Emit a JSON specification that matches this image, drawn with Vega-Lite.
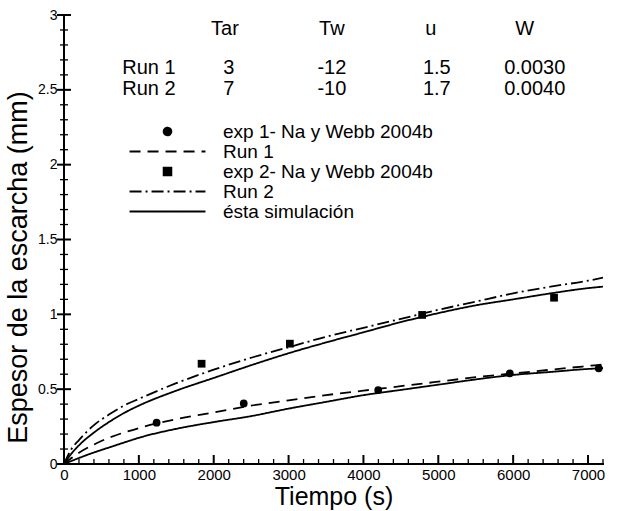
{
  "$schema": "https://vega.github.io/schema/vega-lite/v6.json",
  "width": 539,
  "height": 449,
  "autosize": "none",
  "padding": {"left": 64, "top": 15, "right": 21, "bottom": 47},
  "background": "white",
  "config": {
    "view": {"stroke": null},
    "font": "Liberation Sans",
    "axis": {"grid": false, "domain": false, "ticks": false, "labelColor": "black", "titleColor": "black", "labelFont": "Liberation Sans", "titleFont": "Liberation Sans", "titleFontWeight": "normal"},
    "legend": {"labelFont": "Liberation Sans", "labelColor": "black"}
  },
  "datasets": {
    "one": [{"id": 1}],
    "xticks": [
      {"k": "M", "t": 0}, {"k": "m", "t": 200}, {"k": "m", "t": 400}, {"k": "m", "t": 600}, {"k": "m", "t": 800},
      {"k": "M", "t": 1000}, {"k": "m", "t": 1200}, {"k": "m", "t": 1400}, {"k": "m", "t": 1600}, {"k": "m", "t": 1800},
      {"k": "M", "t": 2000}, {"k": "m", "t": 2200}, {"k": "m", "t": 2400}, {"k": "m", "t": 2600}, {"k": "m", "t": 2800},
      {"k": "M", "t": 3000}, {"k": "m", "t": 3200}, {"k": "m", "t": 3400}, {"k": "m", "t": 3600}, {"k": "m", "t": 3800},
      {"k": "M", "t": 4000}, {"k": "m", "t": 4200}, {"k": "m", "t": 4400}, {"k": "m", "t": 4600}, {"k": "m", "t": 4800},
      {"k": "M", "t": 5000}, {"k": "m", "t": 5200}, {"k": "m", "t": 5400}, {"k": "m", "t": 5600}, {"k": "m", "t": 5800},
      {"k": "M", "t": 6000}, {"k": "m", "t": 6200}, {"k": "m", "t": 6400}, {"k": "m", "t": 6600}, {"k": "m", "t": 6800},
      {"k": "M", "t": 7000}, {"k": "m", "t": 7200}
    ],
    "yticks": [
      {"k": "M", "v": 0}, {"k": "m", "v": 0.1}, {"k": "m", "v": 0.2}, {"k": "m", "v": 0.3}, {"k": "m", "v": 0.4},
      {"k": "M", "v": 0.5}, {"k": "m", "v": 0.6}, {"k": "m", "v": 0.7}, {"k": "m", "v": 0.8}, {"k": "m", "v": 0.9},
      {"k": "M", "v": 1}, {"k": "m", "v": 1.1}, {"k": "m", "v": 1.2}, {"k": "m", "v": 1.3}, {"k": "m", "v": 1.4},
      {"k": "M", "v": 1.5}, {"k": "m", "v": 1.6}, {"k": "m", "v": 1.7}, {"k": "m", "v": 1.8}, {"k": "m", "v": 1.9},
      {"k": "M", "v": 2}, {"k": "m", "v": 2.1}, {"k": "m", "v": 2.2}, {"k": "m", "v": 2.3}, {"k": "m", "v": 2.4},
      {"k": "M", "v": 2.5}, {"k": "m", "v": 2.6}, {"k": "m", "v": 2.7}, {"k": "m", "v": 2.8}, {"k": "m", "v": 2.9},
      {"k": "M", "v": 3}
    ],
    "curves": [
      {"curve": "r1", "series": "Run 1", "t": 0, "v": 0},
      {"curve": "r1", "series": "Run 1", "t": 100, "v": 0.04},
      {"curve": "r1", "series": "Run 1", "t": 200, "v": 0.075},
      {"curve": "r1", "series": "Run 1", "t": 400, "v": 0.13},
      {"curve": "r1", "series": "Run 1", "t": 600, "v": 0.175},
      {"curve": "r1", "series": "Run 1", "t": 800, "v": 0.21},
      {"curve": "r1", "series": "Run 1", "t": 1000, "v": 0.24},
      {"curve": "r1", "series": "Run 1", "t": 1500, "v": 0.3},
      {"curve": "r1", "series": "Run 1", "t": 2000, "v": 0.345},
      {"curve": "r1", "series": "Run 1", "t": 2500, "v": 0.39},
      {"curve": "r1", "series": "Run 1", "t": 3000, "v": 0.425},
      {"curve": "r1", "series": "Run 1", "t": 3500, "v": 0.46},
      {"curve": "r1", "series": "Run 1", "t": 4000, "v": 0.49},
      {"curve": "r1", "series": "Run 1", "t": 4500, "v": 0.52},
      {"curve": "r1", "series": "Run 1", "t": 5000, "v": 0.55},
      {"curve": "r1", "series": "Run 1", "t": 5500, "v": 0.58},
      {"curve": "r1", "series": "Run 1", "t": 6000, "v": 0.605},
      {"curve": "r1", "series": "Run 1", "t": 6500, "v": 0.63},
      {"curve": "r1", "series": "Run 1", "t": 7000, "v": 0.655},
      {"curve": "r1", "series": "Run 1", "t": 7200, "v": 0.665},
      {"curve": "s1", "series": "ésta simulación", "t": 0, "v": 0},
      {"curve": "s1", "series": "ésta simulación", "t": 200, "v": 0.04},
      {"curve": "s1", "series": "ésta simulación", "t": 400, "v": 0.077},
      {"curve": "s1", "series": "ésta simulación", "t": 600, "v": 0.11},
      {"curve": "s1", "series": "ésta simulación", "t": 800, "v": 0.143},
      {"curve": "s1", "series": "ésta simulación", "t": 1000, "v": 0.175},
      {"curve": "s1", "series": "ésta simulación", "t": 1500, "v": 0.235},
      {"curve": "s1", "series": "ésta simulación", "t": 2000, "v": 0.28},
      {"curve": "s1", "series": "ésta simulación", "t": 2500, "v": 0.32},
      {"curve": "s1", "series": "ésta simulación", "t": 3000, "v": 0.37},
      {"curve": "s1", "series": "ésta simulación", "t": 3500, "v": 0.415},
      {"curve": "s1", "series": "ésta simulación", "t": 4000, "v": 0.46},
      {"curve": "s1", "series": "ésta simulación", "t": 4500, "v": 0.495},
      {"curve": "s1", "series": "ésta simulación", "t": 5000, "v": 0.53},
      {"curve": "s1", "series": "ésta simulación", "t": 5500, "v": 0.565},
      {"curve": "s1", "series": "ésta simulación", "t": 6000, "v": 0.595},
      {"curve": "s1", "series": "ésta simulación", "t": 6500, "v": 0.615},
      {"curve": "s1", "series": "ésta simulación", "t": 7000, "v": 0.635},
      {"curve": "s1", "series": "ésta simulación", "t": 7200, "v": 0.64},
      {"curve": "r2", "series": "Run 2", "t": 0, "v": 0},
      {"curve": "r2", "series": "Run 2", "t": 100, "v": 0.1},
      {"curve": "r2", "series": "Run 2", "t": 200, "v": 0.16},
      {"curve": "r2", "series": "Run 2", "t": 400, "v": 0.26},
      {"curve": "r2", "series": "Run 2", "t": 600, "v": 0.33},
      {"curve": "r2", "series": "Run 2", "t": 800, "v": 0.39},
      {"curve": "r2", "series": "Run 2", "t": 1000, "v": 0.435},
      {"curve": "r2", "series": "Run 2", "t": 1500, "v": 0.54},
      {"curve": "r2", "series": "Run 2", "t": 2000, "v": 0.63},
      {"curve": "r2", "series": "Run 2", "t": 2500, "v": 0.71},
      {"curve": "r2", "series": "Run 2", "t": 3000, "v": 0.78},
      {"curve": "r2", "series": "Run 2", "t": 3500, "v": 0.85},
      {"curve": "r2", "series": "Run 2", "t": 4000, "v": 0.91},
      {"curve": "r2", "series": "Run 2", "t": 4500, "v": 0.97},
      {"curve": "r2", "series": "Run 2", "t": 5000, "v": 1.03},
      {"curve": "r2", "series": "Run 2", "t": 5500, "v": 1.085},
      {"curve": "r2", "series": "Run 2", "t": 6000, "v": 1.14},
      {"curve": "r2", "series": "Run 2", "t": 6500, "v": 1.185},
      {"curve": "r2", "series": "Run 2", "t": 7000, "v": 1.225},
      {"curve": "r2", "series": "Run 2", "t": 7200, "v": 1.245},
      {"curve": "s2", "series": "ésta simulación", "t": 0, "v": 0},
      {"curve": "s2", "series": "ésta simulación", "t": 100, "v": 0.07},
      {"curve": "s2", "series": "ésta simulación", "t": 200, "v": 0.125},
      {"curve": "s2", "series": "ésta simulación", "t": 400, "v": 0.21},
      {"curve": "s2", "series": "ésta simulación", "t": 600, "v": 0.28},
      {"curve": "s2", "series": "ésta simulación", "t": 800, "v": 0.34},
      {"curve": "s2", "series": "ésta simulación", "t": 1000, "v": 0.39},
      {"curve": "s2", "series": "ésta simulación", "t": 1500, "v": 0.49},
      {"curve": "s2", "series": "ésta simulación", "t": 2000, "v": 0.575},
      {"curve": "s2", "series": "ésta simulación", "t": 2500, "v": 0.66},
      {"curve": "s2", "series": "ésta simulación", "t": 3000, "v": 0.74},
      {"curve": "s2", "series": "ésta simulación", "t": 3500, "v": 0.812},
      {"curve": "s2", "series": "ésta simulación", "t": 4000, "v": 0.88},
      {"curve": "s2", "series": "ésta simulación", "t": 4500, "v": 0.948},
      {"curve": "s2", "series": "ésta simulación", "t": 5000, "v": 1.008},
      {"curve": "s2", "series": "ésta simulación", "t": 5500, "v": 1.06},
      {"curve": "s2", "series": "ésta simulación", "t": 6000, "v": 1.1},
      {"curve": "s2", "series": "ésta simulación", "t": 6500, "v": 1.14},
      {"curve": "s2", "series": "ésta simulación", "t": 7000, "v": 1.175},
      {"curve": "s2", "series": "ésta simulación", "t": 7200, "v": 1.185}
    ],
    "exp": [
      {"series": "exp 1- Na y Webb 2004b", "t": 1237, "v": 0.276},
      {"series": "exp 1- Na y Webb 2004b", "t": 2401, "v": 0.405},
      {"series": "exp 1- Na y Webb 2004b", "t": 4197, "v": 0.494},
      {"series": "exp 1- Na y Webb 2004b", "t": 5955, "v": 0.606},
      {"series": "exp 1- Na y Webb 2004b", "t": 7143, "v": 0.639},
      {"series": "exp 2- Na y Webb 2004b", "t": 1838, "v": 0.67},
      {"series": "exp 2- Na y Webb 2004b", "t": 3017, "v": 0.804},
      {"series": "exp 2- Na y Webb 2004b", "t": 4784, "v": 0.996},
      {"series": "exp 2- Na y Webb 2004b", "t": 6546, "v": 1.111}
    ],
    "table": [
      {"label": "Tar", "t": 2150, "v": 2.866},
      {"label": "Tw", "t": 3578, "v": 2.866},
      {"label": "u", "t": 4900, "v": 2.866},
      {"label": "W", "t": 6155, "v": 2.866},
      {"label": "Run 1", "t": 1135, "v": 2.604},
      {"label": "3", "t": 2203, "v": 2.604},
      {"label": "-12", "t": 3578, "v": 2.604},
      {"label": "1.5", "t": 4980, "v": 2.604},
      {"label": "0.0030", "t": 6288, "v": 2.604},
      {"label": "Run 2", "t": 1135, "v": 2.465},
      {"label": "7", "t": 2203, "v": 2.465},
      {"label": "-10", "t": 3578, "v": 2.465},
      {"label": "1.7", "t": 4980, "v": 2.465},
      {"label": "0.0040", "t": 6288, "v": 2.465}
    ]
  },
  "layer": [
    {
      "data": {"name": "curves"},
      "mark": {"type": "line", "color": "black", "strokeWidth": 1.8, "interpolate": "monotone"},
      "encoding": {
        "x": {"field": "t", "type": "quantitative", "scale": {"domain": [0, 7200], "nice": false, "zero": false},
          "axis": {"orient": "bottom", "values": [0, 1000, 2000, 3000, 4000, 5000, 6000, 7000], "format": "d", "labelPadding": 3, "labelFontSize": 15, "labelFlush": false, "labelOverlap": false, "title": "Tiempo (s)", "titleFontSize": 25, "titlePadding": 2}},
        "y": {"field": "v", "type": "quantitative", "scale": {"domain": [0, 3], "nice": false, "zero": false},
          "axis": {"orient": "left", "values": [0, 0.5, 1, 1.5, 2, 2.5, 3], "format": "~g", "labelPadding": 7, "labelFontSize": 14, "labelFlush": false, "labelOverlap": false, "title": "Espesor de la escarcha (mm)", "titleFontSize": 27, "titleX": -32, "titleY": 252, "titleBaseline": "bottom"}},
        "strokeDash": {"field": "series", "type": "nominal",
          "scale": {"domain": ["exp 1- Na y Webb 2004b", "Run 1", "exp 2- Na y Webb 2004b", "Run 2", "ésta simulación"], "range": [[1, 0], [11, 7], [1, 0], [12, 4, 2, 4], [1, 0]]},
          "legend": {"title": null, "orient": "none", "legendX": 94, "legendY": 107, "labelFontSize": 19, "labelLimit": 400, "labelOffset": 46, "symbolSize": 60, "symbolStrokeWidth": 1.8, "symbolFillColor": "black", "symbolStrokeColor": "black", "padding": 0, "rowPadding": 0,
            "encode": {"symbols": {"update": {"stroke": {"value": "black"}, "strokeWidth": {"value": 1.8}}}}}},
        "detail": {"field": "curve"}
      }
    },
    {
      "data": {"name": "one"},
      "mark": {"type": "tick", "orient": "horizontal", "color": "black", "size": 541, "thickness": 2, "opacity": 1},
      "encoding": {
        "x": {"datum": 3600, "type": "quantitative"},
        "y": {"datum": 0, "type": "quantitative"}
      }
    },
    {
      "data": {"name": "one"},
      "mark": {"type": "tick", "orient": "vertical", "color": "black", "size": 451, "thickness": 2, "opacity": 1},
      "encoding": {
        "x": {"datum": 0, "type": "quantitative"},
        "y": {"datum": 1.5, "type": "quantitative"}
      }
    },
    {
      "data": {"name": "xticks"},
      "transform": [{"filter": "datum.k == 'M'"}],
      "mark": {"type": "point", "filled": false, "color": "black", "strokeWidth": 2, "size": 16, "opacity": 1, "shape": "M0,0V-4.5"},
      "encoding": {
        "x": {"field": "t", "type": "quantitative"},
        "y": {"datum": 0, "type": "quantitative"}
      }
    },
    {
      "data": {"name": "xticks"},
      "transform": [{"filter": "datum.k == 'm'"}],
      "mark": {"type": "point", "filled": false, "color": "black", "strokeWidth": 1.3, "size": 16, "opacity": 1, "shape": "M0,0V-2.5"},
      "encoding": {
        "x": {"field": "t", "type": "quantitative"},
        "y": {"datum": 0, "type": "quantitative"}
      }
    },
    {
      "data": {"name": "yticks"},
      "transform": [{"filter": "datum.k == 'M'"}],
      "mark": {"type": "tick", "orient": "horizontal", "color": "black", "size": 14, "thickness": 2, "opacity": 1},
      "encoding": {
        "y": {"field": "v", "type": "quantitative"},
        "x": {"datum": 0, "type": "quantitative"}
      }
    },
    {
      "data": {"name": "yticks"},
      "transform": [{"filter": "datum.k == 'm'"}],
      "mark": {"type": "tick", "orient": "horizontal", "color": "black", "size": 8, "thickness": 1.3, "opacity": 1},
      "encoding": {
        "y": {"field": "v", "type": "quantitative"},
        "x": {"datum": 0, "type": "quantitative"}
      }
    },
    {
      "data": {"name": "exp"},
      "mark": {"type": "point", "filled": true, "color": "black", "opacity": 1, "size": 60},
      "encoding": {
        "x": {"field": "t", "type": "quantitative"},
        "y": {"field": "v", "type": "quantitative"},
        "shape": {"field": "series", "type": "nominal",
          "scale": {"domain": ["exp 1- Na y Webb 2004b", "Run 1", "exp 2- Na y Webb 2004b", "Run 2", "ésta simulación"], "range": ["circle", "M-9.8,0H9.8", "square", "M-9.8,0H9.8", "M-9.8,0H9.8"]},
          "legend": {"title": null, "orient": "none", "legendX": 94, "legendY": 107, "labelFontSize": 19, "labelLimit": 400, "labelOffset": 46, "symbolSize": 60, "symbolStrokeWidth": 1.8, "symbolFillColor": "black", "symbolStrokeColor": "black", "padding": 0, "rowPadding": 0,
            "encode": {"symbols": {"update": {"stroke": {"value": "black"}, "strokeWidth": {"value": 1.8}}}}}}
      }
    },
    {
      "data": {"name": "table"},
      "mark": {"type": "text", "fontSize": 20, "font": "Liberation Sans", "color": "black", "baseline": "alphabetic", "align": "center"},
      "encoding": {
        "x": {"field": "t", "type": "quantitative"},
        "y": {"field": "v", "type": "quantitative"},
        "text": {"field": "label"}
      }
    }
  ]
}
